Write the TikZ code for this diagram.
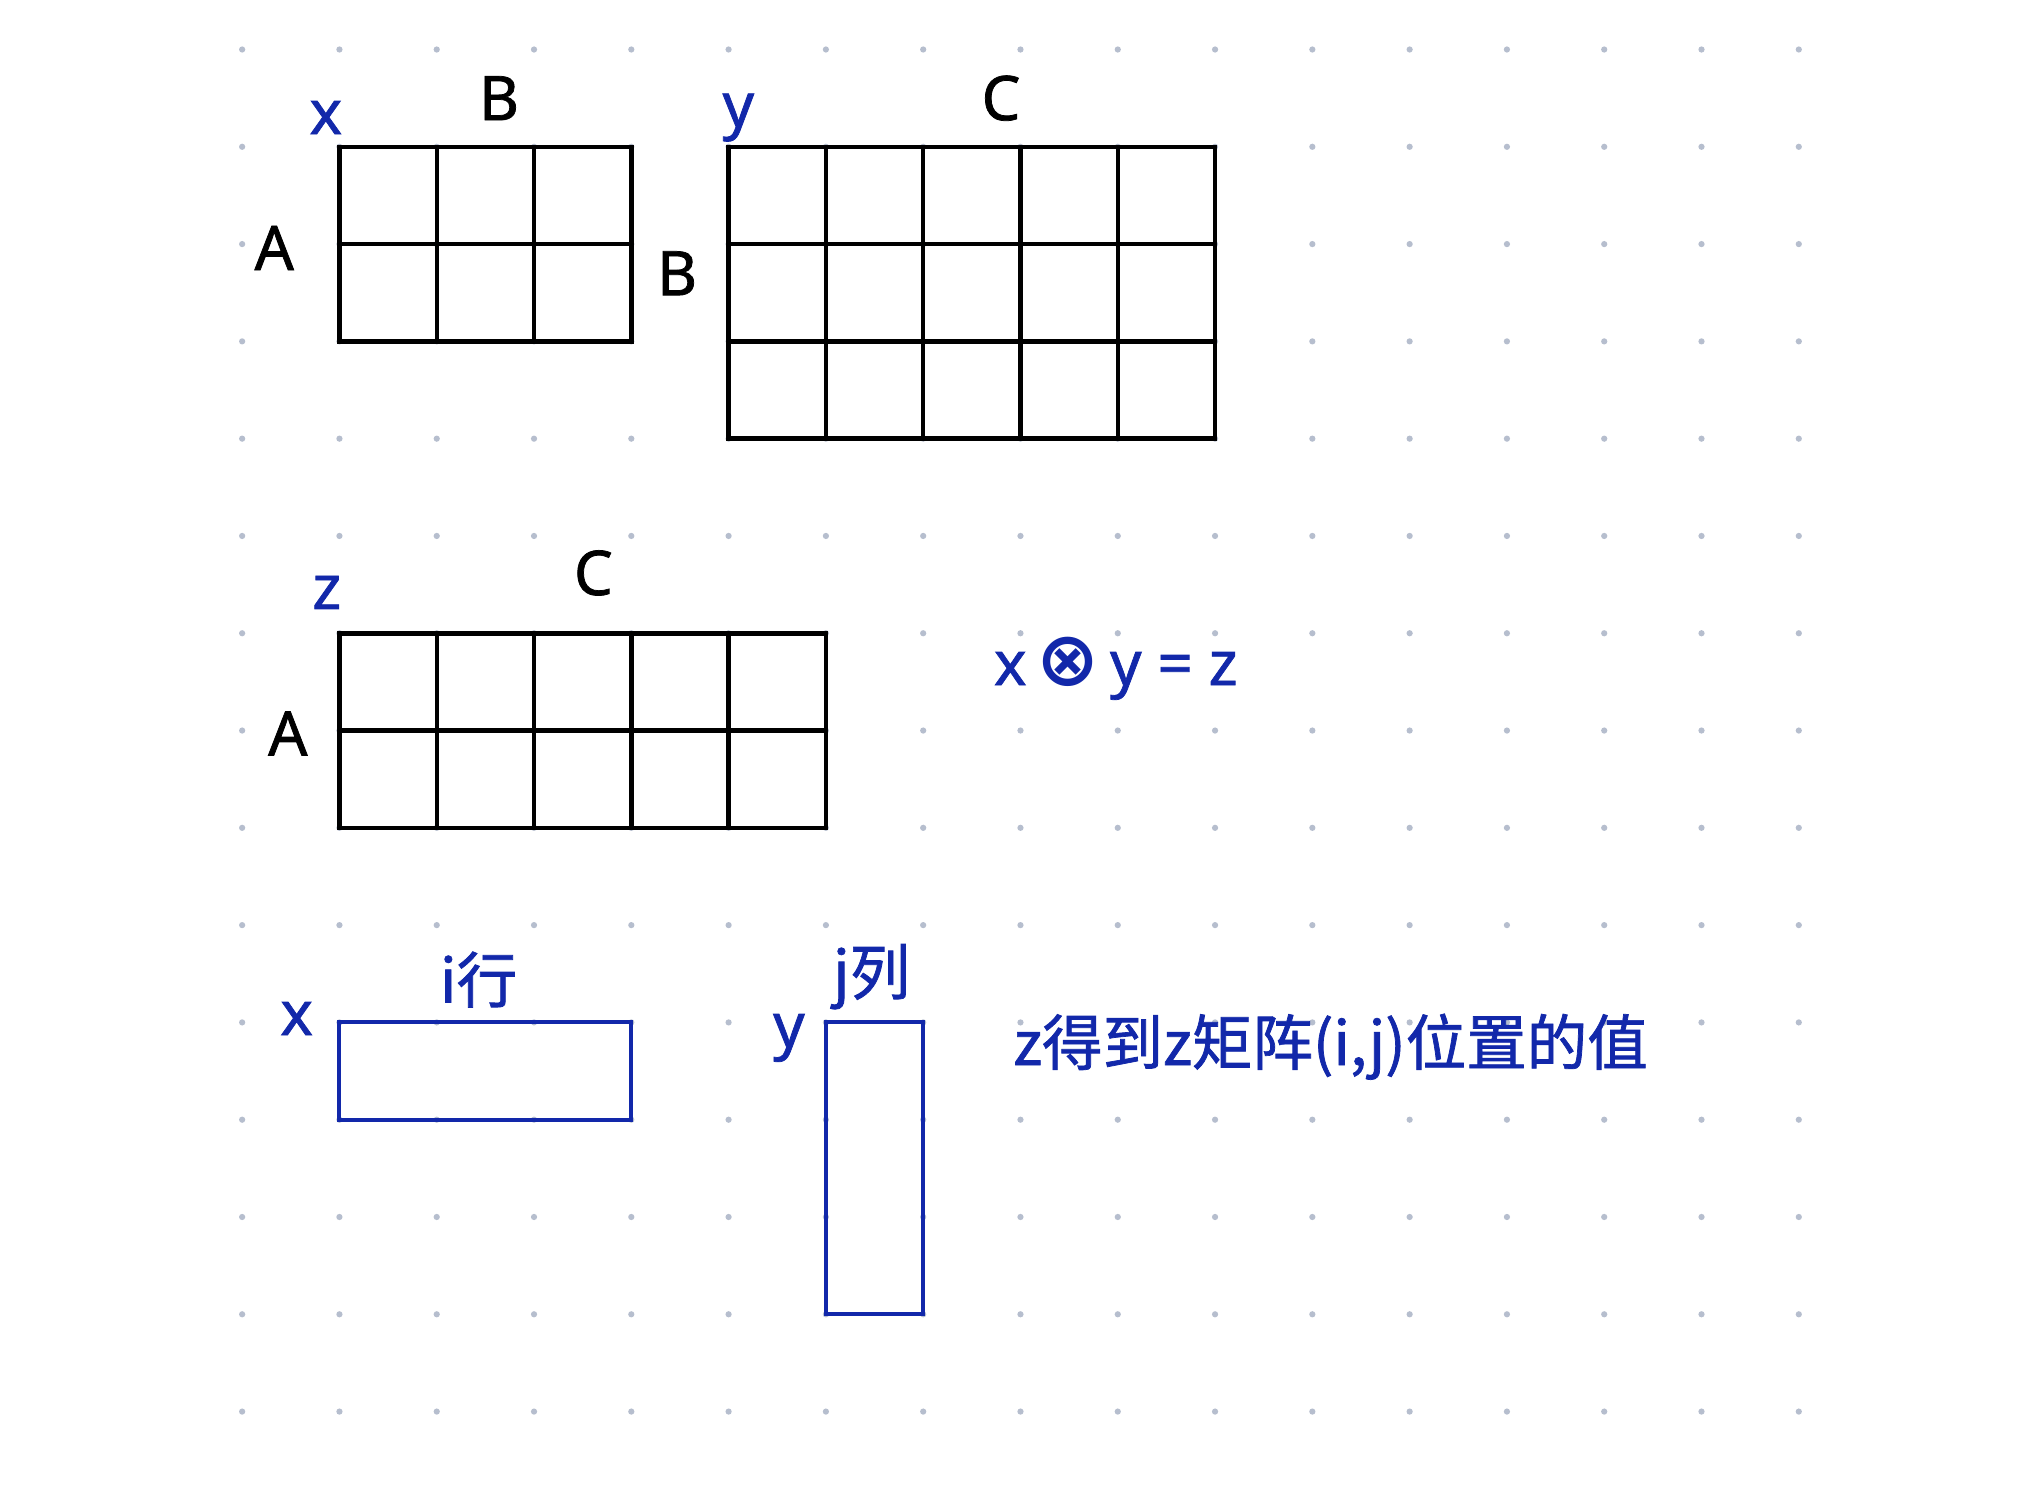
\documentclass[tikz,border=0pt]{standalone}
\usepackage{fontspec}
\setmainfont{Noto Sans}
\newfontfamily\hand[FakeBold=1.2]{Noto Sans}
\newfontfamily\cjk[FakeBold=1.2]{Noto Sans CJK SC}
\newfontfamily\djv{DejaVu Sans}
\definecolor{ink}{RGB}{18,40,170}
\definecolor{dotc}{RGB}{182,190,206}
\tikzset{
  mat/.style={line width=1.3pt, black, line cap=rect},
  vec/.style={line width=1.2pt, ink},
  lbl/.style={font=\hand\fontsize{18}{20}\selectfont, black, inner sep=0pt},
  blbl/.style={font=\hand\fontsize{18}{20}\selectfont, ink, inner sep=0pt},
  cjklbl/.style={font=\cjk\fontsize{17.7}{20}\selectfont, ink, inner sep=0pt}
}
\begin{document}
\begin{tikzpicture}[x=1cm,y=-1cm]
\useasboundingbox[fill=white] (-2.489,-0.509) rectangle (18.5,14.807);
% dot paper
\foreach \i in {0,...,16} {
  \foreach \j in {0,...,14} {
    \fill[dotc] (\i,\j) circle (0.032);
  }
}
% matrix x : A x B
\draw[mat] (1,1) grid (4,3);
\draw[mat] (1,1) rectangle (4,3);
% matrix y : B x C
\draw[mat] (5,1) grid (10,4);
\draw[mat] (5,1) rectangle (10,4);
% matrix z : A x C
\draw[mat] (1,6) grid (6,8);
\draw[mat] (1,6) rectangle (6,8);
% row vector and column vector
\draw[vec] (1,10) rectangle (4,11);
\draw[vec] (6,10) rectangle (7,13);
% labels
\node[blbl] (xa) at (0.86,0.70) {x};
\node[lbl]  (ba) at (2.64,0.50) {B};
\node[lbl]  (aa) at (0.33,2.04) {A};
\node[blbl] (ya) at (5.10,0.70) {y};
\node[lbl]  (ca) at (7.80,0.50) {C};
\node[lbl]  (bb) at (4.47,2.30) {B};
\node[blbl] (za) at (0.87,5.58) {z};
\node[lbl]  (cb) at (3.61,5.38) {C};
\node[lbl]  (ab) at (0.47,7.03) {A};
\node[blbl] (eq) at (8.98,6.36) {x\,{\djv\fontsize{22}{22}\selectfont\bfseries ⊗}\,y = z};
\node[blbl] (xb) at (0.56,9.96) {x};
\node[cjklbl] (ir) at (2.43,9.56) {i行};
\node[blbl] (yb) at (5.62,10.16) {y};
\node[cjklbl] (jc) at (6.47,9.53) {j列};
\node[cjklbl, anchor=west] (res) at (7.92,10.25) {z得到z矩阵(i,j)位置的值};
\end{tikzpicture}
\end{document}
